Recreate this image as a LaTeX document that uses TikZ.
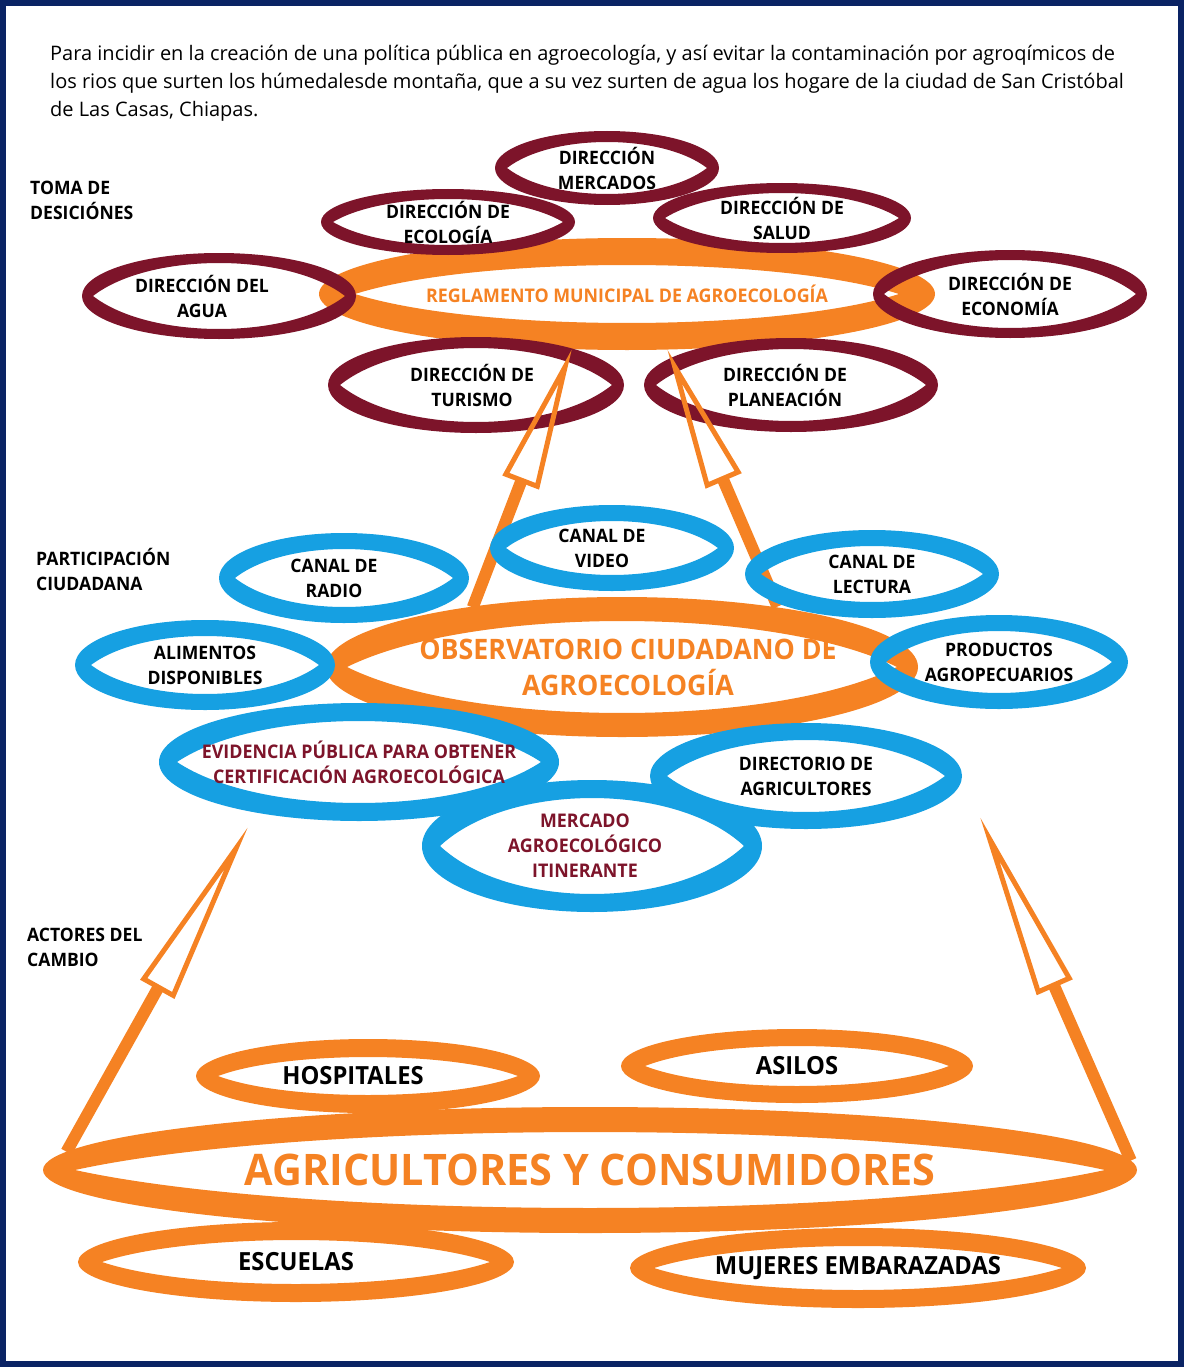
\documentclass[tikz,border=0pt]{standalone}
\usepackage{fontspec}
\setmainfont{Open Sans}
\newfontfamily\rotulo{Open Sans}[FakeStretch=0.95]
\usetikzlibrary{arrows.meta,shapes.geometric}
\definecolor{naranja}{RGB}{245,130,35}
\definecolor{vino}{RGB}{125,20,42}
\definecolor{celeste}{RGB}{22,160,226}
\definecolor{marino}{RGB}{10,35,100}
\tikzstyle{negro}=[text=black, align=center, font=\rotulo\bfseries\fontsize{18.5}{25}\selectfont]
\tikzstyle{grande}=[text=black, align=center, font=\rotulo\bfseries\fontsize{25}{30}\selectfont]
\tikzstyle{vinotinto}=[text=vino, align=center, font=\rotulo\bfseries\fontsize{18.8}{25}\selectfont]
\tikzstyle{titulo}=[text=naranja, align=center, font=\rotulo\bfseries\fontsize{18.8}{25}\selectfont]
\tikzstyle{nivel}=[anchor=west, align=left, inner sep=0pt, font=\rotulo\bfseries\fontsize{18.5}{25}\selectfont]
\tikzset{flecha/.style={draw=naranja, line width=12pt, -{Triangle[open, length=#1, width=38pt, line width=5pt]}}}
% anillo: color, nombre, centro, radios de fuera, radios del hueco, estilo, texto
\newcommand{\anillo}[9]{%
  \begin{scope}[shift={(#3)}]
    \fill[#1, even odd rule] (0,0) ellipse [x radius=#4, y radius=#5]
      (-#6,0) .. controls ({-0.55*#6},{-1.333*#7}) and ({0.55*#6},{-1.333*#7}) .. (#6,0)
      .. controls ({0.55*#6},{1.333*#7}) and ({-0.55*#6},{1.333*#7}) .. cycle;
  \end{scope}
  \node[#8, ellipse, inner sep=0pt, outer sep=0pt, minimum width=2*#4, minimum height=2*#5] (#2) at (#3) {#9};
}

\begin{document}
\begin{tikzpicture}[x=1pt, y=-1pt]
\useasboundingbox (0,0) rectangle (1184,1367);
\draw[marino, line width=6pt] (3,3) rectangle (1181,1364);
\node[anchor=west, align=left, inner sep=0pt, font=\fontsize{20}{28}\selectfont] (intro) at (50,83)
  {Para incidir en la creación de una política pública en agroecología, y así evitar la contaminación por agroqímicos de\\
   los rios que surten los húmedalesde montaña, que a su vez surten de agua los hogare de la ciudad de San Cristóbal\\
   de Las Casas, Chiapas.};

\node[nivel] (toma) at (30,200) {TOMA DE\\DESICIÓNES};
\node[nivel] (participacion) at (36,569) {PARTICIPACIÓN\\CIUDADANA};
\node[nivel] (actores) at (27,947) {ACTORES DEL\\CAMBIO};

% toma de desiciones
\anillo{naranja}{regl}{627,294}{308}{56}{272}{29}{titulo}{REGLAMENTO MUNICIPAL DE AGROECOLOGÍA}
\anillo{vino}{mercados}{607,168}{112}{37}{100}{26}{negro}{DIRECCIÓN\\MERCADOS}
\anillo{vino}{ecologia}{448,222}{127}{33}{115}{23}{negro}{DIRECCIÓN DE\\ECOLOGÍA}
\anillo{vino}{salud}{782,218}{129}{35}{117}{25}{negro}{DIRECCIÓN DE\\SALUD}
\anillo{vino}{agua}{219,296}{137}{43}{126}{33}{negro, xshift=-17}{DIRECCIÓN DEL\\AGUA}
\anillo{vino}{economia}{1010,294}{137}{44}{126}{34}{negro}{DIRECCIÓN DE\\ECONOMÍA}
\anillo{vino}{turismo}{476,385}{148}{48}{136}{37}{negro, xshift=-4}{DIRECCIÓN DE\\TURISMO}
\anillo{vino}{planeacion}{791,385}{147}{47}{135}{36}{negro, xshift=-6}{DIRECCIÓN DE\\PLANEACIÓN}

% participacion ciudadana
\anillo{naranja}{obs}{622,667}{296}{70}{275}{46}{titulo, font=\rotulo\bfseries\fontsize{28.2}{36}\selectfont, xshift=6}{OBSERVATORIO CIUDADANO DE\\AGROECOLOGÍA}
\draw[flecha=143pt] (obs.159) -- (regl.225);
\draw[flecha=143pt] (obs.22) -- (regl.306);
\anillo{celeste}{radio}{344,578}{125}{45}{109}{29}{negro, xshift=-10}{CANAL DE\\RADIO}
\anillo{celeste}{video}{612,548}{122}{43}{106}{27}{negro, xshift=-10}{CANAL DE\\VIDEO}
\anillo{celeste}{lectura}{872,574}{127}{44}{111}{28}{negro}{CANAL DE\\LECTURA}
\anillo{celeste}{alimentos}{205,665}{130}{45}{114}{29}{negro}{ALIMENTOS\\DISPONIBLES}
\anillo{celeste}{productos}{999,662}{129}{47}{113}{31}{negro}{PRODUCTOS\\AGROPECUARIOS}
\anillo{celeste}{evidencia}{359,762}{200}{59}{182}{41}{vinotinto}{EVIDENCIA PÚBLICA PARA OBTENER\\CERTIFICACIÓN AGROECOLÓGICA}
\anillo{celeste}{directorio}{806,776}{156}{53}{139}{36}{negro}{DIRECTORIO DE\\AGRICULTORES}
\anillo{celeste}{mercado}{592,846}{170}{66}{152}{48}{vinotinto, xshift=-7}{MERCADO\\AGROECOLÓGICO\\ITINERANTE}

% actores del cambio
\anillo{naranja}{hospitales}{368,1076}{172}{37}{150}{19}{grande, xshift=-15}{HOSPITALES}
\anillo{naranja}{asilos}{797,1066}{176}{37}{152}{20}{grande}{ASILOS}
\anillo{naranja}{agri}{590,1170}{547}{63}{515}{38}{titulo, font=\rotulo\bfseries\fontsize{43.5}{50}\selectfont}{AGRICULTORES Y CONSUMIDORES}
\anillo{naranja}{escuelas}{296,1262}{218}{40}{194}{22}{grande}{ESCUELAS}
\anillo{naranja}{mujeres}{858,1268}{228}{40}{204}{22}{grande}{MUJERES EMBARAZADAS}
\coordinate (puntaIzq) at (248,827);
\coordinate (puntaDer) at (980,817);
\draw[flecha=186pt] (agri.178) -- (puntaIzq);
\draw[flecha=186pt] (agri.1) -- (puntaDer);
\end{tikzpicture}
\end{document}
